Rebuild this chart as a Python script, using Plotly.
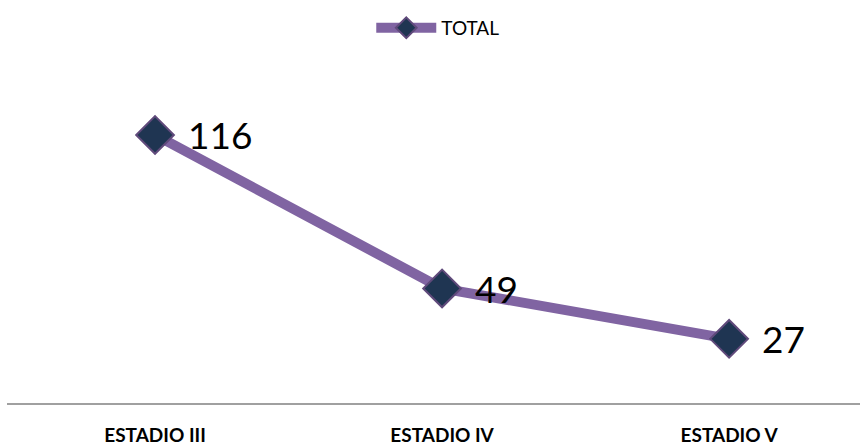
import plotly.graph_objects as go

categories = ["ESTADIO III", "ESTADIO IV", "ESTADIO V"]
values = [116, 49, 27]
series_name = "TOTAL"

fig = go.Figure()
fig.add_trace(go.Scatter(
    x=categories, y=values, name=series_name, mode="lines+markers",
    line=dict(color="#8064A2", width=10),
    marker=dict(symbol="diamond", size=29, color="#1F3552",
                line=dict(color="#604A7B", width=2)),
    cliponaxis=False,
))

for c, v in zip(categories, values):
    fig.add_annotation(x=c, y=v, text=str(v), showarrow=False,
                       xanchor="left", yanchor="middle", xshift=31, yshift=0,
                       font=dict(family="Lato, Open Sans, sans-serif", size=37, color="#000000"))

fig.update_layout(
    width=860, height=447,
    margin=dict(l=7, r=0, t=60, b=44, autoexpand=False),
    paper_bgcolor="white", plot_bgcolor="white",
    showlegend=True,
    legend=dict(orientation="h", x=0.505, xanchor="center", y=0.98, yanchor="top",
                yref="container", itemwidth=60,
                font=dict(family="Lato, Open Sans, sans-serif", size=19, color="#000000")),
    xaxis=dict(type="category", range=[-0.5157, 2.456], showline=True,
               linecolor="#A0A0A0", linewidth=2, showgrid=False, zeroline=False,
               ticks="", ticklabelstandoff=14,
               tickfont=dict(family="Lato, Open Sans, sans-serif", size=19, color="#000000", weight="bold")),
    yaxis=dict(range=[-1.0, 148.7], visible=False, showgrid=False, zeroline=False),
)

fig.write_html("out.html")
